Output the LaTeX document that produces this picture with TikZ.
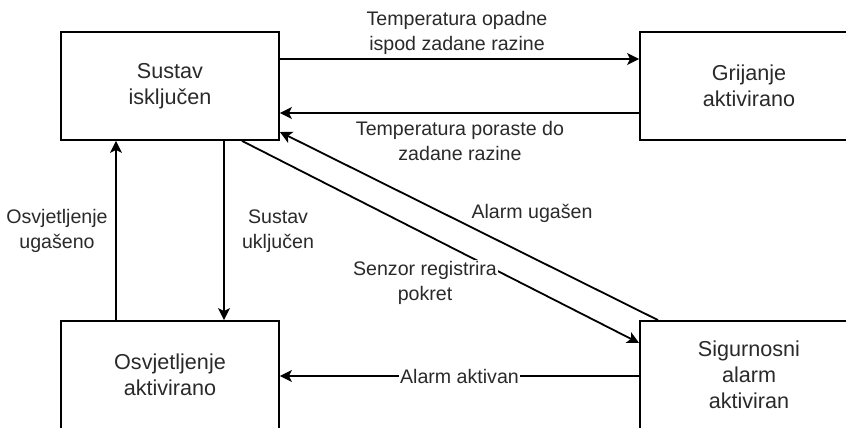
\documentclass[tikz,border=0pt]{standalone}
\usepackage{fontspec}
\setmainfont{Liberation Sans}
\usetikzlibrary{arrows.meta}
\definecolor{txt}{HTML}{2A2A2A}
\begin{document}
\begin{tikzpicture}[x=1pt,y=-1pt,
  state/.style={draw=black, line width=1.8pt, minimum width=218pt, minimum height=108pt,
    inner sep=0pt, align=center, text=txt, font=\fontsize{21.6}{26}\selectfont},
  lbl/.style={align=center, text=txt, font=\fontsize{19.6}{25}\selectfont, inner sep=1pt},
  arr/.style={draw=black, line width=1.8pt, -{Stealth[length=12pt,width=12pt,inset=3pt]}}]
\useasboundingbox (0,0) rectangle (846,428);
\clip (0,0) rectangle (846,428);
\fill[white] (0,0) rectangle (846,428);
\node[state] (A) at (170,86) {Sustav\\isključen};
\node[state] (B) at (749,86) {Grijanje\\aktivirano};
\node[state] (C) at (170,375) {Osvjetljenje\\aktivirano};
\node[state] (D) at (749,375) {Sigurnosni\\alarm\\aktiviran};
% edges
\draw[arr] ([yshift=27pt]A.east) -- ([yshift=27pt]B.west);
\draw[arr] ([yshift=-27pt]B.west) -- ([yshift=-27pt]A.east);
\draw[arr] ([xshift=54pt]A.south) -- ([xshift=54pt]C.north);
\draw[arr] ([xshift=-54pt]C.north) -- ([xshift=-54pt]A.south);
\draw[arr] ([xshift=72pt]A.south) -- ([yshift=32pt]D.west);
\draw[arr] ([xshift=-91pt]D.north) -- ([yshift=-46pt]A.east);
\draw[arr] ([yshift=-1pt]D.west) -- node[lbl, fill=white] (l7) {Alarm aktivan} ([yshift=-1pt]C.east);
% labels
\node[lbl] (l1) at (457,33) {Temperatura opadne\\ispod zadane razine};
\node[lbl] (l2) at (460,141) {Temperatura poraste do\\zadane razine};
\node[lbl] (l3) at (278,231) {Sustav\\uključen};
\node[lbl] (l4) at (57,231) {Osvjetljenje\\ugašeno};
\node[lbl, fill=white] (l5) at (425,283) {Senzor registrira\\pokret};
\node[lbl] (l6) at (532,213) {Alarm ugašen};
\end{tikzpicture}
\end{document}
